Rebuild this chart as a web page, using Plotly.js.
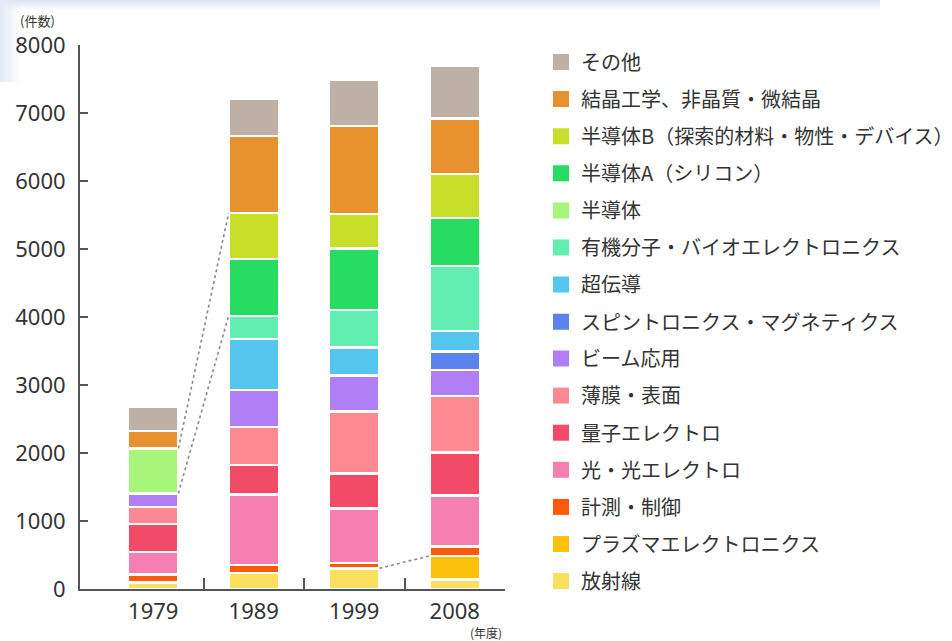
<!DOCTYPE html>
<html>
<head>
<meta charset="utf-8">
<script src="https://cdn.plot.ly/plotly-3.0.1.min.js"></script>
<style>
  html, body { margin: 0; padding: 0; background: #ffffff; }
  #wrap { position: relative; width: 952px; height: 641px; overflow: hidden; }
  #bg1 { position: absolute; left: 0; top: 0; width: 880px; height: 10px;
         background: linear-gradient(to bottom, #dfe2f4, rgba(255,255,255,0)); }
  #bg2 { position: absolute; left: 0; top: 0; width: 22px; height: 82px;
         background: linear-gradient(to right, #e3eaf7, rgba(255,255,255,0)); }
  #chart { position: absolute; left: 0; top: 0; width: 952px; height: 641px; }
</style>
</head>
<body>
<div id="wrap"><div id="bg1"></div><div id="bg2"></div><div id="chart"></div></div>
<script>
// ---- data ----
const years  = ['1979', '1989', '1999', '2008'];
const totals = ['2352', '6767', '7044', '7176'];

// stacked from bottom to top
const hoshasen   = [95, 235, 304, 140];     // 放射線
const plasma     = [null, null, null, 348]; // プラズマエレクトロニクス
const keisoku    = [115, 118, 81, 140];     // 計測・制御
const hikari     = [334, 1034, 802, 744];   // 光・光エレクトロ
const ryoshi     = [415, 437, 514, 638];    // 量子エレクトロ
const hakumaku   = [244, 555, 912, 828];    // 薄膜・表面
const beam       = [204, 547, 527, 383];    // ビーム応用
const spin       = [null, null, null, 269]; // スピントロニクス・マグネティクス
const chodendo   = [null, 748, 409, 304];   // 超伝導
const yuki       = [null, 344, 554, 959];   // 有機分子・バイオエレクトロニクス
const handotai   = [662, null, null, null]; // 半導体
const handotaiA  = [null, 832, 907, 703];   // 半導体A（シリコン）
const handotaiB  = [null, 679, 508, 644];   // 半導体B（探索的材料・物性・デバイス）
const kessho     = [252, 1133, 1291, 822];  // 結晶工学、非晶質・微結晶
const sonota     = [361, 549, 682, 779];    // その他

const seriesNames = [
  '放射線', 'プラズマエレクトロニクス', '計測・制御', '光・光エレクトロ', '量子エレクトロ',
  '薄膜・表面', 'ビーム応用', 'スピントロニクス・マグネティクス', '超伝導',
  '有機分子・バイオエレクトロニクス', '半導体', '半導体A（シリコン）',
  '半導体B（探索的材料・物性・デバイス）', '結晶工学、非晶質・微結晶', 'その他'
];
const seriesValues = [hoshasen, plasma, keisoku, hikari, ryoshi, hakumaku, beam, spin,
  chodendo, yuki, handotai, handotaiA, handotaiB, kessho, sonota];
const seriesColors = [
  '#fbdf5e', '#fbc10a', '#fc5a0a', '#f67fb1', '#f24b68',
  '#fd8a92', '#b07ef5', '#5b82ef', '#55c6ee',
  '#62eeb0', '#a8f57c', '#27dc62',
  '#c8df2a', '#e8912f', '#bfb0a6'
];

// ---- styles ----
const numFont = 'Noto Sans, Noto Sans CJK JP, sans-serif';
const jpFont  = 'Noto Sans CJK JP, Noto Sans, sans-serif';
const textColor = '#333333';
const axisColor = '#555555';
const barWidth = 0.5;
const xRange = [-0.729, 3.5];
const labelShift = [23, 24, 37, 23];

const traces = [];
// stacked bars
seriesNames.forEach((name, i) => {
  traces.push({
    type: 'bar', x: years, y: seriesValues[i], name: name,
    marker: { color: seriesColors[i], line: { color: '#ffffff', width: 2.5 } },
    width: barWidth, showlegend: false, hoverinfo: 'name+y'
  });
});

// cumulative tops per year
function cumulativeUpTo(k) {  // sum of series 0..k
  return years.map((_, j) => {
    let s = 0;
    for (let i = 0; i <= k; i++) s += (seriesValues[i][j] || 0);
    return s;
  });
}
const idx = n => seriesNames.indexOf(n);
const stackTop = cumulativeUpTo(seriesNames.length - 1);

// dotted connector lines (on overlay linear axis x2, same numeric scale as categories)
const half = barWidth / 2;
const connectors = [
  { x: [0 + half, 1 - half], y: [cumulativeUpTo(idx('半導体'))[0], cumulativeUpTo(idx('半導体B（探索的材料・物性・デバイス）'))[1]] },
  { x: [0 + half, 1 - half], y: [cumulativeUpTo(idx('ビーム応用'))[0], cumulativeUpTo(idx('有機分子・バイオエレクトロニクス'))[1]] },
  { x: [2 + half, 3 - half], y: [cumulativeUpTo(idx('放射線'))[2], cumulativeUpTo(idx('プラズマエレクトロニクス'))[3]] }
];
connectors.forEach(c => {
  traces.push({
    type: 'scatter', mode: 'lines', x: c.x, y: c.y, xaxis: 'x2', yaxis: 'y',
    line: { color: '#8a8a8a', width: 1.6, dash: 'dot' },
    showlegend: false, hoverinfo: 'skip'
  });
});

// legend entries (top to bottom: その他 ... 放射線), split in two legend boxes
const splitAt = idx('スピントロニクス・マグネティクス');
for (let i = seriesNames.length - 1; i >= 0; i--) {
  traces.push({
    type: 'scatter', mode: 'markers', x: [null], y: [null], xaxis: 'x2', yaxis: 'y',
    name: seriesNames[i], legendgroup: 'g' + i,
    legend: i >= splitAt ? 'legend' : 'legend2',
    marker: { symbol: 'square', size: 16, color: seriesColors[i] },
    hoverinfo: 'skip'
  });
}

const annotations = years.map((yr, j) => ({
  x: yr, y: stackTop[j], xref: 'x', yref: 'y', text: totals[j],
  showarrow: false, yanchor: 'middle', yshift: labelShift[j],
  font: { family: numFont, size: 19, color: textColor }
}));
annotations.push({
  xref: 'paper', yref: 'paper', x: -0.101, y: 1.0445, text: '(件数)',
  showarrow: false, xanchor: 'center', yanchor: 'middle',
  font: { family: jpFont, size: 13, color: textColor }
});
annotations.push({
  xref: 'paper', yref: 'paper', x: 0.955, y: -0.0805, text: '(年度)',
  showarrow: false, xanchor: 'center', yanchor: 'middle',
  font: { family: jpFont, size: 12, color: textColor }
});

const legendBase = {
  x: 1.0847, xanchor: 'left', yanchor: 'top', yref: 'container',
  traceorder: 'grouped', tracegroupgap: 8.1,
  bgcolor: 'rgba(0,0,0,0)', borderwidth: 0,
  font: { family: jpFont, size: 20, color: textColor },
  itemclick: false, itemdoubleclick: false
};

const layout = {
  width: 952, height: 641,
  margin: { l: 80, r: 447, t: 45, b: 52, autoexpand: false },
  paper_bgcolor: 'rgba(0,0,0,0)', plot_bgcolor: 'rgba(0,0,0,0)',
  barmode: 'stack',
  showlegend: true,
  legend: Object.assign({}, legendBase, { y: 1 - 42.5 / 641 }),
  legend2: Object.assign({}, legendBase, { y: 1 - 339 / 641 }),
  xaxis: {
    type: 'category', range: xRange, showline: true, linecolor: axisColor, linewidth: 2,
    ticks: '', showgrid: false, zeroline: false, ticklabelstandoff: 2,
    tickfont: { family: numFont, size: 22, color: textColor }, fixedrange: true
  },
  xaxis2: {
    type: 'linear', range: xRange, overlaying: 'x', anchor: 'y', side: 'bottom',
    tickmode: 'array', tickvals: [0.5, 1.5, 2.5, 3.5], ticks: 'inside', ticklen: 11,
    tickwidth: 2, tickcolor: axisColor, showticklabels: false, showgrid: false,
    zeroline: false, showline: false, fixedrange: true
  },
  yaxis: {
    range: [0, 8000], dtick: 1000, showline: true, linecolor: axisColor, linewidth: 2,
    ticks: 'inside', ticklen: 8, tickwidth: 2, tickcolor: axisColor,
    showgrid: false, zeroline: false, ticklabelstandoff: 8,
    tickfont: { family: numFont, size: 22, color: textColor }, fixedrange: true
  },
  annotations: annotations
};

Plotly.newPlot('chart', traces, layout, { displayModeBar: false, staticPlot: true });
</script>
</body>
</html>
